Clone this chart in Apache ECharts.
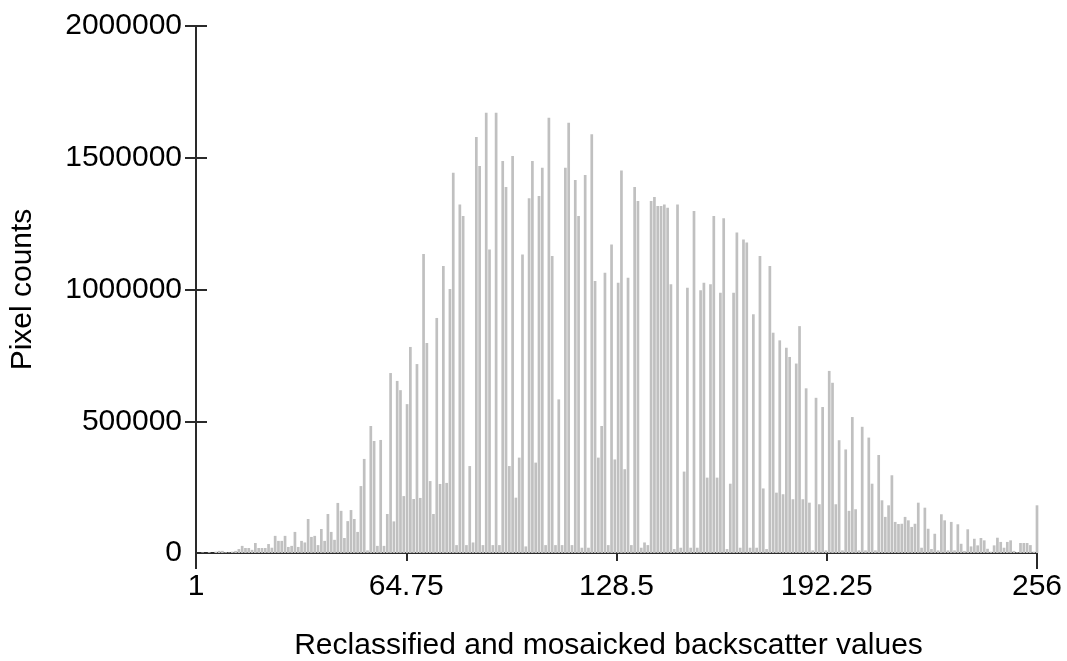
<!DOCTYPE html>
<html>
<head>
<meta charset="utf-8">
<title>Backscatter histogram</title>
<script src="https://cdn.jsdelivr.net/npm/echarts@6/dist/echarts.min.js"></script>
<style>
  html, body { margin: 0; padding: 0; background: #ffffff; }
  #chart { width: 1067px; height: 661px; }
</style>
</head>
<body>
<div id="chart"></div>
<script>
// Pixel counts per backscatter class (classes 1..256), in four blocks of 64
const countsBlockA = [ // classes 1-64
  0, 0, 2000, 0, 3000, 0, 5000, 8000, 8000, 3000,
  2000, 5000, 8000, 15000, 27000, 19000, 19000, 12000, 38000, 19000,
  19000, 19000, 34000, 20000, 65000, 46000, 46000, 65000, 23000, 27000,
  80000, 23000, 46000, 40000, 129000, 61000, 65000, 30000, 91000, 46000,
  148000, 80000, 50000, 190000, 160000, 57000, 121000, 163000, 129000, 80000,
  254000, 357000, 10000, 482000, 425000, 27000, 429000, 27000, 148000, 683000,
  120000, 653000, 618000, 216000
];
const countsBlockB = [ // classes 65-128
  565000, 782000, 205000, 717000, 209000, 1135000, 797000, 273000, 148000, 892000,
  262000, 1089000, 266000, 1002000, 1443000, 30000, 1323000, 1279000, 30000, 330000,
  40000, 1579000, 1469000, 30000, 1671000, 1152000, 30000, 1671000, 30000, 1488000,
  1389000, 330000, 1507000, 210000, 362000, 1133000, 25000, 1346000, 1488000, 343000,
  1355000, 1462000, 30000, 1652000, 1127000, 30000, 583000, 30000, 1462000, 1633000,
  30000, 1416000, 1279000, 20000, 1435000, 20000, 1589000, 1032000, 362000, 482000,
  1064000, 30000, 1171000, 355000
];
const countsBlockC = [ // classes 129-192
  1026000, 1452000, 318000, 1045000, 30000, 1389000, 1336000, 20000, 40000, 30000,
  1336000, 1351000, 1317000, 1317000, 1323000, 1310000, 1020000, 15000, 1323000, 20000,
  309000, 1007000, 20000, 1298000, 20000, 997000, 1026000, 286000, 1020000, 1279000,
  286000, 988000, 1270000, 15000, 263000, 988000, 1216000, 20000, 1190000, 1178000,
  20000, 906000, 20000, 1127000, 245000, 15000, 1089000, 836000, 229000, 807000,
  223000, 779000, 744000, 204000, 719000, 861000, 204000, 625000, 191000, 10000,
  589000, 185000, 554000, 10000
];
const countsBlockD = [ // classes 193-256
  691000, 646000, 185000, 428000, 10000, 393000, 160000, 516000, 166000, 10000,
  479000, 10000, 438000, 263000, 10000, 372000, 200000, 137000, 181000, 295000,
  118000, 110000, 111000, 137000, 124000, 99000, 111000, 191000, 20000, 172000,
  92000, 15000, 73000, 10000, 147000, 124000, 10000, 118000, 10000, 109000,
  35000, 8000, 90000, 25000, 54000, 29000, 57000, 48000, 16000, 5000,
  29000, 58000, 42000, 20000, 42000, 48000, 8000, 3000, 38000, 38000,
  38000, 30000, 5000, 181000
];

// Axis tick values
const xTickValues = [1, 64.75, 128.5, 192.25, 256];
const yTickValues = [0, 500000, 1000000, 1500000, 2000000];

const xTitle = 'Reclassified and mosaicked backscatter values';
const yTitle = 'Pixel counts';

const counts = countsBlockA.concat(countsBlockB, countsBlockC, countsBlockD);
const classValues = counts.map((_, i) => i + 1);
const histData = counts.map((c, i) => [classValues[i], c]);

const FONT = '"Liberation Sans", Arial, sans-serif';
const AXIS_COLOR = '#2a2a2a';
const xMin = xTickValues[0];
const xMax = xTickValues[xTickValues.length - 1];
const xStep = xTickValues[1] - xTickValues[0];
const yMin = yTickValues[0];
const yMax = yTickValues[yTickValues.length - 1];
const yStep = yTickValues[1] - yTickValues[0];

const chart = echarts.init(document.getElementById('chart'), null, { renderer: 'canvas' });

chart.setOption({
  animation: false,
  backgroundColor: '#ffffff',
  grid: { left: 196, right: 30, top: 26, bottom: 108, containLabel: false, outerBoundsMode: 'none' },
  xAxis: [
    {
      type: 'value',
      min: xMin,
      max: xMax,
      interval: xStep,
      position: 'bottom',
      name: xTitle,
      nameLocation: 'middle',
      nameGap: 78,
      nameTextStyle: { fontFamily: FONT, fontSize: 30, color: '#000', padding: [0, 16, 0, 0] },
      axisLine: { show: true, lineStyle: { color: AXIS_COLOR, width: 2 } },
      axisTick: {
        show: true, length: 8,
        customValues: xTickValues.slice(1, -1),
        lineStyle: { color: AXIS_COLOR, width: 2 }
      },
      axisLabel: {
        show: true, margin: 19,
        customValues: xTickValues,
        fontFamily: FONT, fontSize: 30, color: '#000',
        formatter: v => String(v)
      },
      splitLine: { show: false }
    },
    {
      // longer end ticks at both ends of the class range
      type: 'value',
      min: xMin,
      max: xMax,
      position: 'bottom',
      axisLine: { show: false },
      axisTick: {
        show: true, length: 16,
        customValues: [xMin, xMax],
        lineStyle: { color: AXIS_COLOR, width: 2 }
      },
      axisLabel: { show: false },
      splitLine: { show: false }
    }
  ],
  yAxis: [
    {
      type: 'value',
      min: yMin,
      max: yMax,
      interval: yStep,
      position: 'left',
      name: yTitle,
      nameLocation: 'middle',
      nameGap: 158,
      nameTextStyle: { fontFamily: FONT, fontSize: 30, color: '#000' },
      axisLine: { show: true, lineStyle: { color: AXIS_COLOR, width: 2 } },
      axisTick: {
        show: true, length: 11,
        customValues: yTickValues.slice(1),
        lineStyle: { color: AXIS_COLOR, width: 2 }
      },
      axisLabel: {
        show: true, margin: 14,
        customValues: yTickValues,
        fontFamily: FONT, fontSize: 30, color: '#000',
        formatter: v => String(v)
      },
      splitLine: { show: false }
    },
    {
      // inner half of the crossing y ticks
      type: 'value',
      min: yMin,
      max: yMax,
      interval: yStep,
      position: 'left',
      axisLine: { show: false },
      axisTick: {
        show: true, inside: true, length: 11,
        customValues: yTickValues.slice(1),
        lineStyle: { color: AXIS_COLOR, width: 2 }
      },
      axisLabel: { show: false },
      splitLine: { show: false }
    }
  ],
  series: [
    {
      type: 'bar',
      xAxisIndex: 0,
      yAxisIndex: 0,
      data: histData,
      barWidth: '82%',
      itemStyle: { color: '#c0c0c0' },
      emphasis: { disabled: true },
      silent: true
    }
  ]
});
</script>
</body>
</html>
